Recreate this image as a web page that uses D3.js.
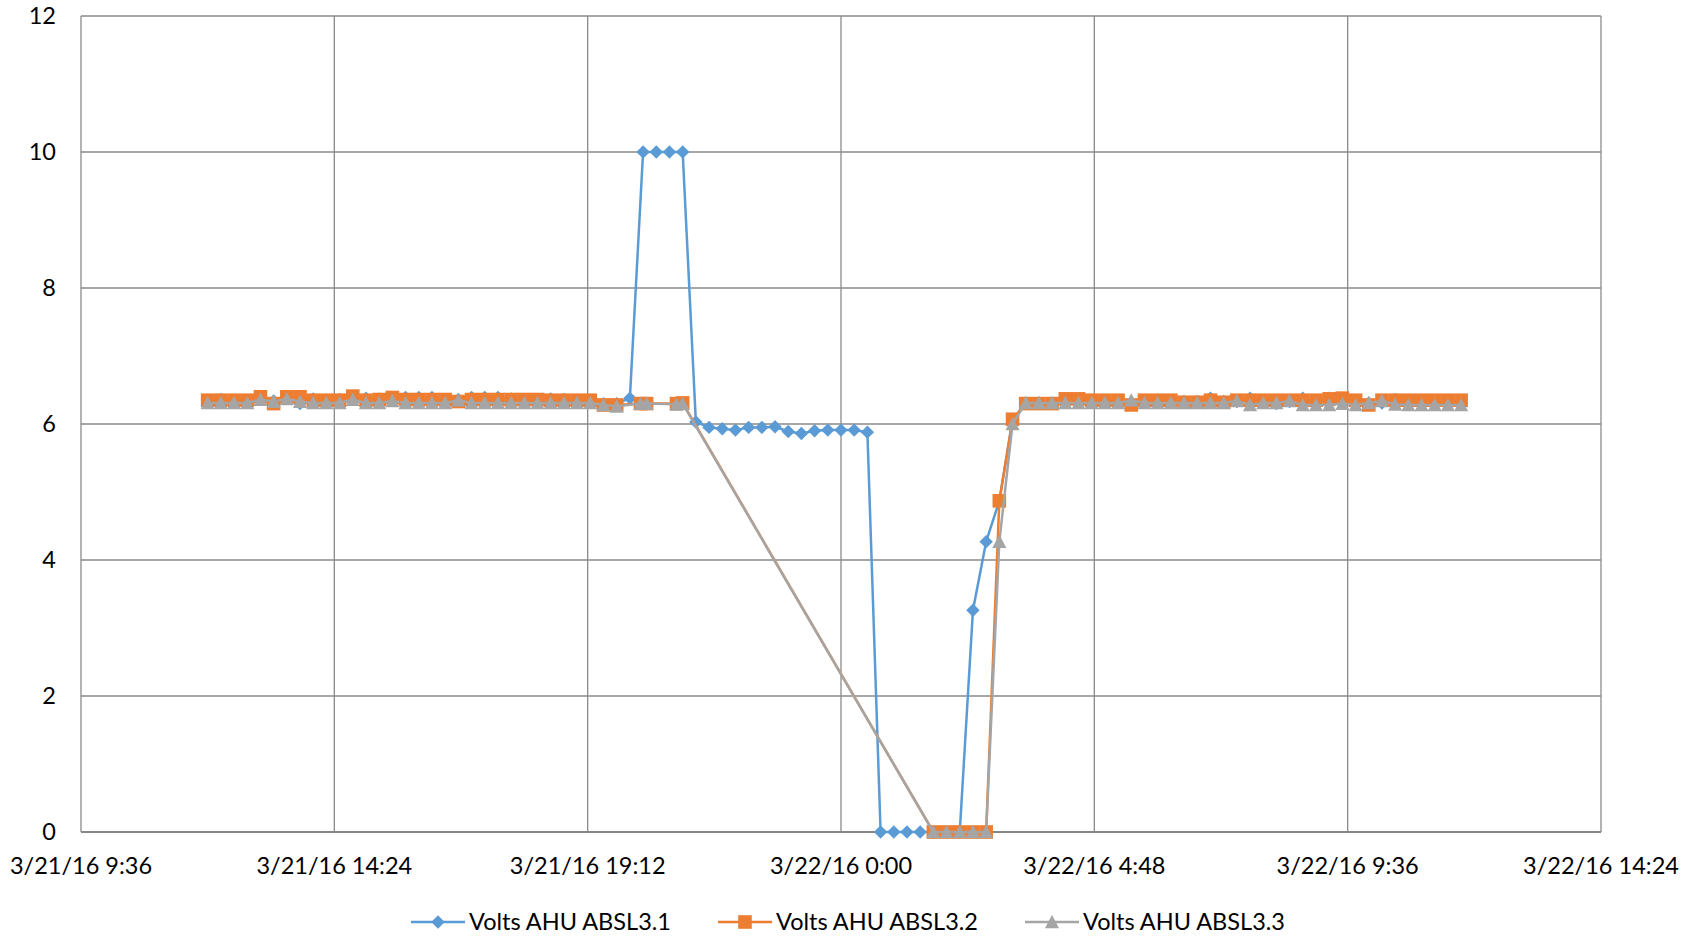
<!DOCTYPE html>
<html>
<head>
<meta charset="utf-8">
<script src="https://cdn.jsdelivr.net/npm/d3@7"></script>
<style>
  body { margin: 0; background: #fff; }
  text { font-family: Lato, "Open Sans", sans-serif; fill: #000; }
</style>
</head>
<body>
<div id="chart"></div>
<script>
// 15-Minuten-Raster: 3/21/16 12:00 bis 3/22/16 11:45
const gridStart = "3/21/16 12:00";
const gridCount = 96;

// Volts AHU ABSL3.1
const s1 = [
  6.35, 6.36, 6.34, 6.35, 6.39, 6.34, 6.40, 6.30, 6.37, 6.35, 6.36, 6.39, 6.38,
  6.37, 6.38, 6.39, 6.39, 6.39, 6.35, 6.36, 6.39, 6.39, 6.39, 6.37, 6.36, 6.36,
  6.37, 6.36, 6.35, 6.35, 6.30, 6.30,
  6.38, 10, 10, 10, 10, 6.03,
  5.95, 5.93, 5.91, 5.95, 5.95, 5.96, 5.89, 5.86, 5.90, 5.91, 5.91, 5.91, 5.88,
  0, 0, 0, 0, 0, 0, 0,
  3.26, 4.27, 4.87, 6.05,
  6.31, 6.31, 6.30, 6.33, 6.36, 6.33, 6.33, 6.34, 6.30, 6.35, 6.35, 6.33,
  6.33, 6.33, 6.38, 6.33, 6.33, 6.38, 6.33, 6.30, 6.33, 6.38, 6.30, 6.38,
  6.38, 6.33, 6.31, 6.31, 6.36, 6.31, 6.31, 6.31, 6.31, 6.31
];

// Volts AHU ABSL3.2
const s2 = [
  6.35, 6.35, 6.35, 6.35, 6.40, 6.30, 6.40, 6.40, 6.35, 6.35, 6.35, 6.41, 6.35,
  6.36, 6.39, 6.36, 6.36, 6.36, 6.36, 6.33, 6.36, 6.36, 6.36, 6.36, 6.36, 6.36,
  6.35, 6.35, 6.35, 6.35, 6.28, 6.28,
  null, null, null, null, null, null,
  null, null, null, null, null, null, null, null, null, null, null, null, null,
  null, null, null, null, 0, 0, 0,
  0, 0, 4.87, 6.07,
  6.30, 6.30, 6.30, 6.37, 6.37, 6.35, 6.35, 6.35, 6.28, 6.35, 6.35, 6.35,
  6.32, 6.32, 6.35, 6.32, 6.35, 6.35, 6.35, 6.35, 6.35, 6.35, 6.35, 6.37,
  6.38, 6.35, 6.28, 6.35, 6.35, 6.35, 6.35, 6.35, 6.35, 6.35
];

// Volts AHU ABSL3.3
const s3 = [
  6.31, 6.31, 6.31, 6.31, 6.36, 6.33, 6.37, 6.33, 6.31, 6.31, 6.31, 6.36, 6.31,
  6.31, 6.34, 6.31, 6.31, 6.31, 6.31, 6.35, 6.31, 6.31, 6.31, 6.31, 6.31, 6.31,
  6.31, 6.31, 6.31, 6.31, 6.28, 6.26,
  null, null, null, null, null, null,
  null, null, null, null, null, null, null, null, null, null, null, null, null,
  null, null, null, null, 0, 0, 0,
  0, 0, 4.27, 6.00,
  6.31, 6.31, 6.31, 6.31, 6.31, 6.31, 6.31, 6.31, 6.35, 6.31, 6.31, 6.31,
  6.31, 6.31, 6.31, 6.31, 6.34, 6.28, 6.31, 6.31, 6.34, 6.28, 6.28, 6.28,
  6.30, 6.28, 6.31, 6.34, 6.29, 6.28, 6.28, 6.28, 6.28, 6.28
];

// zusätzliche (unregelmäßige) Messpunkte für ABSL3.2 / ABSL3.3
const extraTimes = ["3/21/16 20:12", "3/21/16 20:19", "3/21/16 20:53", "3/21/16 21:00"];
const s2Extra = [6.30, 6.30, 6.30, 6.31];
const s3Extra = [6.30, 6.30, 6.29, 6.30];

const seriesNames = ["Volts AHU ABSL3.1", "Volts AHU ABSL3.2", "Volts AHU ABSL3.3"];
const seriesColors = ["#5B9BD5", "#ED7D31", "#A5A5A5"];

const xStart = "3/21/16 9:36";
const xEnd = "3/22/16 14:24";
const yTicks = [0, 2, 4, 6, 8, 10, 12];

const parseTime = d3.timeParse("%m/%d/%y %H:%M");
const t0 = parseTime(gridStart);
const times = d3.range(gridCount).map(i => d3.timeMinute.offset(t0, 15 * i));

function buildSeries(values, extras) {
  const pts = values
    .map((v, i) => ({ date: times[i], value: v }))
    .filter(d => d.value !== null);
  if (extras) {
    extras.forEach((v, i) => pts.push({ date: parseTime(extraTimes[i]), value: v }));
  }
  return pts.sort((a, b) => a.date - b.date);
}

const series = [
  buildSeries(s1, null),
  buildSeries(s2, s2Extra),
  buildSeries(s3, s3Extra)
];

// Marker-Formen
const diamond = { draw(ctx, size) { const r = Math.sqrt(size) / 2; ctx.moveTo(0, -r); ctx.lineTo(r, 0); ctx.lineTo(0, r); ctx.lineTo(-r, 0); ctx.closePath(); } };
const square = { draw(ctx, size) { const r = Math.sqrt(size) / 2; ctx.rect(-r, -r, 2 * r, 2 * r); } };
const triangle = { draw(ctx, size) { const r = Math.sqrt(size) / 2; ctx.moveTo(0, -r); ctx.lineTo(r, r * 0.9); ctx.lineTo(-r, r * 0.9); ctx.closePath(); } };
const markerPaths = [
  d3.symbol().type(diamond).size(180)(),
  d3.symbol().type(square).size(185)(),
  d3.symbol().type(triangle).size(200)()
];

const width = 1698, height = 940;
const svg = d3.select("#chart").append("svg")
  .attr("width", width)
  .attr("height", height);

svg.append("rect").attr("width", width).attr("height", height).attr("fill", "#fff");

const x = d3.scaleTime()
  .domain([parseTime(xStart), parseTime(xEnd)])
  .range([81, 1601]);

const y = d3.scaleLinear()
  .domain([0, 12])
  .range([832, 16]);

// X-Ticks alle 4:48
const step = (x.domain()[1] - x.domain()[0]) / 6;
const xTicks = d3.range(7).map(i => new Date(+x.domain()[0] + i * step));
const fmtDate = d3.timeFormat("%-m/%-d/%y %-H:%M");

// Gitternetz
svg.append("g")
  .selectAll("line")
  .data(yTicks.filter(d => d > 0))
  .enter()
  .append("line")
  .attr("x1", x.range()[0])
  .attr("x2", x.range()[1])
  .attr("y1", d => y(d))
  .attr("y2", d => y(d))
  .attr("stroke", "#8a8a8a")
  .attr("stroke-width", 1.3);

svg.append("g")
  .selectAll("line")
  .data(xTicks)
  .enter()
  .append("line")
  .attr("x1", d => x(d))
  .attr("x2", d => x(d))
  .attr("y1", y(12))
  .attr("y2", y(0))
  .attr("stroke", "#8a8a8a")
  .attr("stroke-width", 1.3);

// X-Achse (Grundlinie)
svg.append("line")
  .attr("x1", x.range()[0])
  .attr("x2", x.range()[1])
  .attr("y1", y(0))
  .attr("y2", y(0))
  .attr("stroke", "#868686")
  .attr("stroke-width", 2);

// Achsenbeschriftungen
svg.append("g")
  .selectAll("text")
  .data(yTicks)
  .enter()
  .append("text")
  .attr("x", 56)
  .attr("y", d => y(d))
  .attr("dy", "0.35em")
  .attr("text-anchor", "end")
  .style("font-size", "23.5px")
  .text(d => d);

svg.append("g")
  .selectAll("text")
  .data(xTicks)
  .enter()
  .append("text")
  .attr("x", d => x(d))
  .attr("y", 866)
  .attr("dy", "0.35em")
  .attr("text-anchor", "middle")
  .style("font-size", "23.5px")
  .text(d => fmtDate(d));

// Linien und Marker
const line = d3.line()
  .x(d => x(d.date))
  .y(d => y(d.value));

series.forEach((data, k) => {
  const g = svg.append("g");
  g.append("path")
    .attr("d", line(data))
    .attr("fill", "none")
    .attr("stroke", seriesColors[k])
    .attr("stroke-width", 2.5)
    .attr("stroke-linejoin", "round");

  g.selectAll("path.marker")
    .data(data)
    .enter()
    .append("path")
    .attr("class", "marker")
    .attr("transform", d => `translate(${x(d.date)},${y(d.value)})`)
    .attr("d", markerPaths[k])
    .attr("fill", seriesColors[k]);
});

// Legende
const legendX = [411, 718, 1025];
seriesNames.forEach((name, k) => {
  const lg = svg.append("g").attr("transform", `translate(${legendX[k]}, 922)`);
  lg.append("line")
    .attr("x1", 0).attr("x2", 54)
    .attr("y1", 0).attr("y2", 0)
    .attr("stroke", seriesColors[k])
    .attr("stroke-width", 2.5);
  lg.append("path")
    .attr("transform", "translate(27,0)")
    .attr("d", markerPaths[k])
    .attr("fill", seriesColors[k]);
  lg.append("text")
    .attr("x", 58)
    .attr("y", 0)
    .attr("dy", "0.35em")
    .style("font-size", "23.5px")
    .text(name);
});
</script>
</body>
</html>
